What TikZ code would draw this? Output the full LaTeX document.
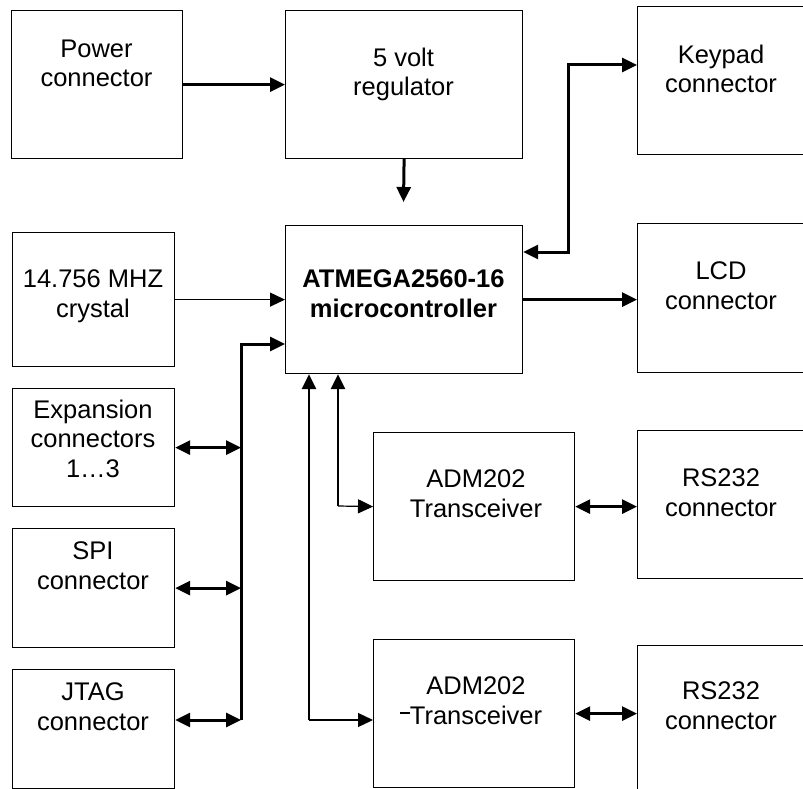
\documentclass[tikz,border=0pt]{standalone}
\usepackage{fontspec}
\setmainfont{Liberation Sans}
\usetikzlibrary{arrows.meta,calc}
\begin{document}
\begin{tikzpicture}[x=1pt,y=-1pt,
  >={Triangle[length=15pt,width=14pt]},
  box/.style={draw, line width=1.2pt, anchor=north west, inner sep=0pt},
  lbl/.style={anchor=north, align=center, inner sep=0pt, font=\fontsize{25.5}{29.5}\selectfont},
  thk/.style={line width=3pt},
  mid/.style={line width=2.5pt},
  thn/.style={line width=1.2pt}]
\useasboundingbox (0,0) rectangle (803,789);

% boxes
\node[box, minimum width=171pt, minimum height=148pt] (pw)   at (11,10)  {};
\node[box, minimum width=237pt, minimum height=148pt] (reg)  at (285,10) {};
\node[box, minimum width=180pt, minimum height=148pt] (key)  at (637,6)  {};
\node[box, minimum width=162pt, minimum height=134pt] (cry)  at (12,232) {};
\node[box, minimum width=237pt, minimum height=148pt] (mcu)  at (285,225) {};
\node[box, minimum width=180pt, minimum height=149pt] (lcd)  at (637,223) {};
\node[box, minimum width=162pt, minimum height=118pt] (exp)  at (12,388) {};
\node[box, minimum width=162pt, minimum height=119pt] (spi)  at (12,528) {};
\node[box, minimum width=162pt, minimum height=119pt] (jtag) at (12,669) {};
\node[box, minimum width=201pt, minimum height=148pt] (adma) at (373,432) {};
\node[box, minimum width=180pt, minimum height=148pt] (rsa)  at (637,430) {};
\node[box, minimum width=201pt, minimum height=148pt] (admb) at (373,639) {};
\node[box, minimum width=180pt, minimum height=160pt] (rsb)  at (637,645) {};

% labels
\node[lbl] (tpw)   at (96.5,39.7)  {Power\\connector};
\node[lbl] (treg)  at (403.5,47.7) {5 volt\\regulator};
\node[lbl] (tkey)  at (721,44.7)   {Keypad\\connector};
\node[lbl] (tcry)  at (93,269.7)   {14.756 MHZ\\crystal};
\node[lbl, font=\fontsize{25.5}{29.5}\selectfont\bfseries] (tmcu) at (403.5,269.7) {ATMEGA2560-16\\microcontroller};
\node[lbl] (tlcd)  at (721,261.7)  {LCD\\connector};
\node[lbl] (texp)  at (93,399.7)   {Expansion\\connectors\\1…3};
\node[lbl] (tspi)  at (93,541.7)   {SPI\\connector};
\node[lbl] (tjtag) at (93,682.7)   {JTAG\\connector};
\node[lbl] (tadma) at (476,469.7)  {ADM202\\Transceiver};
\node[lbl] (trsa)  at (721,468.7)  {RS232\\connector};
\node[lbl] (tadmb) at (476,676.7)  {ADM202\\Transceiver};
\node[lbl] (trsb)  at (721,681.7)  {RS232\\connector};

% connectors
\draw[thk,->] (pw.east) -- (reg.west);
\coordinate (regend) at (403.5,202);
\draw[thk,->] (reg.south) -- (regend);

\coordinate (kb) at (568,65);
\draw[thk,<->] ($(mcu.north east)+(0,27)$) -| (kb) -- (kb -| key.west);

\draw[thk,->] (mcu.east) -- (mcu.east -| lcd.west);
\draw[thn,->] (cry.east) -- (cry.east -| mcu.west);

\coordinate (bustop) at (241,344);
\coordinate (busbot) at (241,720);
\draw[thk,->] (busbot) -- (bustop) -- (bustop -| mcu.west);
\draw[thk,<->] (exp.east) -- (exp.east -| bustop);
\draw[thk,<->] (spi.east) -- (spi.east -| bustop);
\draw[thk,<->] (jtag.east |- busbot) -- (busbot);

\coordinate (ca) at (338,506);
\coordinate (cb) at (309,720);
\draw[mid,->] (ca) -- (ca |- mcu.south);
\draw[thn,->] (ca) -- (adma.west);
\draw[mid,->] (cb) -- (cb |- mcu.south);
\draw[thn,->] (cb) -- (cb -| admb.west);

\draw[thk,<->] (adma.east) -- (adma.east -| rsa.west);
\draw[thk,<->] (admb.east) -- (admb.east -| rsb.west);

\coordinate (tka) at (400,713);
\coordinate (tkb) at (410,713);
\draw[thn] (tka) -- (tkb);
\end{tikzpicture}
\end{document}
